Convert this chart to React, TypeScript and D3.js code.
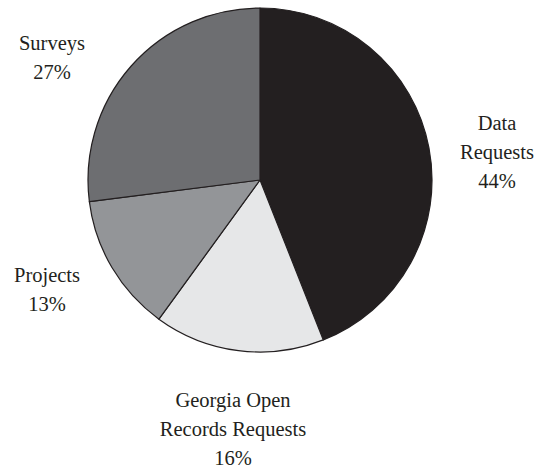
import React, { useRef, useEffect } from "react";
import * as d3 from "d3";

const categories = ["Data Requests", "Georgia Open Records Requests", "Projects", "Surveys"];
const values = [44, 16, 13, 27];
const labelLines = [
  ["Data", "Requests", "44%"],
  ["Georgia Open", "Records Requests", "16%"],
  ["Projects", "13%"],
  ["Surveys", "27%"],
];
const colors = ["#231f20", "#e6e7e8", "#939598", "#6d6e71"];

// label anchor (middle of first baseline) relative to pie centre
const labelPos = [
  { dx: 237, dy: -50 },
  { dx: -27, dy: 227 },
  { dx: -213, dy: 102 },
  { dx: -208, dy: -130 },
];

const PieChart: React.FC = () => {
  const ref = useRef<SVGSVGElement | null>(null);

  useEffect(() => {
    if (!ref.current) return;
    const svg = d3.select(ref.current);
    svg.selectAll("*").remove();

    const cx = 260;
    const cy = 180;
    const radius = 172;
    const lineH = 29;

    const data = categories.map((c, i) => ({ name: c, value: values[i], i }));
    const pie = d3
      .pie<{ name: string; value: number; i: number }>()
      .value((d) => d.value)
      .sort(null);
    const arc = d3
      .arc<d3.PieArcDatum<{ name: string; value: number; i: number }>>()
      .innerRadius(0)
      .outerRadius(radius);

    const g = svg.append("g").attr("transform", `translate(${cx},${cy})`);

    g.selectAll("path")
      .data(pie(data))
      .enter()
      .append("path")
      .attr("d", arc)
      .attr("fill", (d) => colors[d.data.i])
      .attr("stroke", "#231f20")
      .attr("stroke-width", 1.2)
      .attr("stroke-linejoin", "round");

    const labels = g
      .selectAll("text.lbl")
      .data(data)
      .enter()
      .append("text")
      .attr("class", "lbl")
      .attr("text-anchor", "middle")
      .attr("font-family", "'Liberation Serif', serif")
      .attr("font-size", 20.5)
      .attr("fill", "#231f20")
      .attr("transform", (d) => `translate(${labelPos[d.i].dx},${labelPos[d.i].dy})`);

    labels
      .selectAll("tspan")
      .data((d) => labelLines[d.i])
      .enter()
      .append("tspan")
      .attr("x", 0)
      .attr("y", (_, j) => j * lineH)
      .text((t) => t);
  }, []);

  return (
    <svg
      ref={ref}
      width={538}
      height={468}
      style={{ display: "block", position: "fixed", left: 0, top: 0, background: "#fff" }}
    />
  );
};

export default function App() {
  return (
    <div style={{ position: "fixed", inset: 0, overflow: "hidden", background: "#fff" }}>
      <PieChart />
    </div>
  );
}
